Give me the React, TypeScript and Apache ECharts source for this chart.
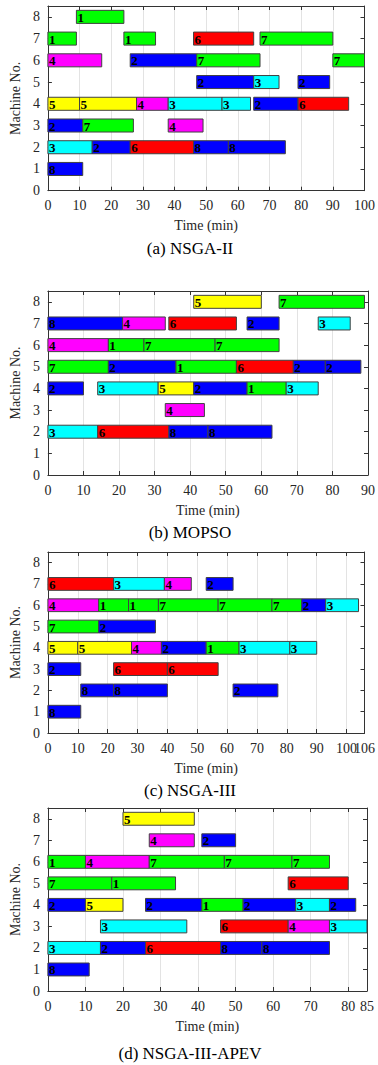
import React, { useEffect, useRef } from "react";
import * as echarts from "echarts";

type Task = [number, number, number, number]; // [machine, start, end, job]

const machineTicks = [0, 1, 2, 3, 4, 5, 6, 7, 8];

const panelTitles = ["(a) NSGA-II", "(b) MOPSO", "(c) NSGA-III", "(d) NSGA-III-APEV"];
const panelXMax = [100, 90, 106, 85];

const jobColors: Record<number, string> = {
  1: "#00ff00",
  2: "#0000ff",
  3: "#00ffff",
  4: "#ff00ff",
  5: "#ffff00",
  6: "#ff0000",
  7: "#00ff00",
  8: "#0000ff",
};

const nsga2Tasks: Task[] = [
  [8, 9, 24, 1],
  [7, 0, 9, 1], [7, 24, 34, 1], [7, 46, 65, 6], [7, 67, 90, 7],
  [6, 0, 17, 4], [6, 26, 47, 2], [6, 47, 67, 7], [6, 90, 100, 7],
  [5, 47, 65, 2], [5, 65, 73, 3], [5, 79, 89, 2],
  [4, 0, 10, 5], [4, 10, 28, 5], [4, 28, 38, 4], [4, 38, 55, 3], [4, 55, 64, 3], [4, 65, 79, 2], [4, 79, 95, 6],
  [3, 0, 11, 2], [3, 11, 27, 7], [3, 38, 49, 4],
  [2, 0, 14, 3], [2, 14, 26, 2], [2, 26, 46, 6], [2, 46, 57, 8], [2, 57, 75, 8],
  [1, 0, 11, 8],
];

const mopsoTasks: Task[] = [
  [8, 41, 60, 5], [8, 65, 89, 7],
  [7, 0, 21, 8], [7, 21, 33, 4], [7, 34, 53, 6], [7, 56, 65, 2], [7, 76, 85, 3],
  [6, 0, 17, 4], [6, 17, 27, 1], [6, 27, 47, 7], [6, 47, 65, 7],
  [5, 0, 17, 7], [5, 17, 36, 2], [5, 36, 53, 1], [5, 53, 69, 6], [5, 69, 78, 2], [5, 78, 88, 2],
  [4, 0, 10, 2], [4, 14, 31, 3], [4, 31, 41, 5], [4, 41, 56, 2], [4, 56, 67, 1], [4, 67, 76, 3],
  [3, 33, 44, 4],
  [2, 0, 14, 3], [2, 14, 34, 6], [2, 34, 45, 8], [2, 45, 63, 8],
];

const nsga3Tasks: Task[] = [
  [7, 0, 22, 6], [7, 22, 39, 3], [7, 39, 48, 4], [7, 53, 62, 2],
  [6, 0, 17, 4], [6, 17, 27, 1], [6, 27, 37, 1], [6, 37, 57, 7], [6, 57, 75, 7], [6, 75, 85, 7], [6, 85, 93, 2], [6, 93, 104, 3],
  [5, 0, 17, 7], [5, 17, 36, 2],
  [4, 0, 10, 5], [4, 10, 28, 5], [4, 28, 38, 4], [4, 38, 53, 2], [4, 53, 64, 1], [4, 64, 81, 3], [4, 81, 90, 3],
  [3, 0, 11, 2], [3, 22, 40, 6], [3, 40, 57, 6],
  [2, 11, 22, 8], [2, 22, 40, 8], [2, 62, 77, 2],
  [1, 0, 11, 8],
];

const apevTasks: Task[] = [
  [8, 20, 39, 5],
  [7, 27, 39, 4], [7, 41, 50, 2],
  [6, 0, 10, 1], [6, 10, 27, 4], [6, 27, 47, 7], [6, 47, 65, 7], [6, 65, 75, 7],
  [5, 0, 17, 7], [5, 17, 34, 1], [5, 64, 80, 6],
  [4, 0, 10, 2], [4, 10, 20, 5], [4, 26, 41, 2], [4, 41, 52, 1], [4, 52, 66, 2], [4, 66, 75, 3], [4, 75, 82, 2],
  [3, 14, 37, 3], [3, 46, 64, 6], [3, 64, 75, 4], [3, 75, 85, 3],
  [2, 0, 14, 3], [2, 14, 26, 2], [2, 26, 46, 6], [2, 46, 57, 8], [2, 57, 75, 8],
  [1, 0, 11, 8],
];

const panelTasks = [nsga2Tasks, mopsoTasks, nsga3Tasks, apevTasks];

const grids = [
  { left: 46, right: 11, top: 6, height: 184.7 },
  { left: 46, right: 8, top: 291, height: 184 },
  { left: 46, right: 11, top: 552, height: 181 },
  { left: 43, right: 11, top: 808, height: 183 },
];
const titleY = [248, 532, 790, 1053];

const FONT = "'Liberation Serif', 'DejaVu Serif', serif";
const AXIS_COLOR = "#333333";
const TEXT_COLOR = "#262626";

export default function App() {
  const ref = useRef<HTMLDivElement>(null);

  useEffect(() => {
    if (!ref.current) return;
    const chart = echarts.init(ref.current, undefined, { renderer: "svg" });

    const xAxis: any[] = [];
    const yAxis: any[] = [];
    const series: any[] = [];

    grids.forEach((g, i) => {
      const xmax = panelXMax[i];
      const maxIsOffGrid = xmax % 10 !== 0;
      const mainIndex = xAxis.length;
      xAxis.push({
        type: "value",
        gridIndex: i,
        min: 0,
        max: xmax,
        interval: 10,
        position: "bottom",
        name: "Time (min)",
        nameLocation: "middle",
        nameGap: 28,
        nameTextStyle: { fontFamily: FONT, fontSize: 14, color: TEXT_COLOR },
        axisLine: { show: true, onZero: false, lineStyle: { color: AXIS_COLOR, width: 1 } },
        axisTick: { show: true, inside: true, length: 4, lineStyle: { color: AXIS_COLOR } },
        axisLabel: {
          fontFamily: FONT,
          fontSize: 14,
          color: TEXT_COLOR,
          margin: 8,
          showMaxLabel: !maxIsOffGrid,
          showMinLabel: true,
          formatter: (v: number) => (v % 10 === 0 ? String(v) : ""),
        },
        splitLine: { show: true, lineStyle: { color: "#e3e3e3", width: 1 } },
      });
      xAxis.push({
        type: "value",
        gridIndex: i,
        min: 0,
        max: xmax,
        interval: 10,
        position: "top",
        axisLine: { show: true, onZero: false, lineStyle: { color: AXIS_COLOR, width: 1 } },
        axisTick: { show: true, inside: true, length: 4, lineStyle: { color: AXIS_COLOR } },
        axisLabel: { show: false },
        splitLine: { show: false },
      });
      if (maxIsOffGrid) {
        // separate bottom axis that only labels the end value (e.g. 106)
        xAxis.push({
          type: "value",
          gridIndex: i,
          min: 0,
          max: xmax,
          interval: 10,
          position: "bottom",
          axisLine: { show: false, onZero: false },
          axisTick: { show: false },
          splitLine: { show: false },
          axisLabel: {
            fontFamily: FONT,
            fontSize: 14,
            color: TEXT_COLOR,
            margin: 8,
            showMaxLabel: true,
            formatter: (v: number) => (v === xmax ? String(v) : ""),
          },
        });
      }
      yAxis.push({
        type: "value",
        gridIndex: i,
        min: machineTicks[0],
        max: 8.5,
        interval: 1,
        position: "left",
        name: "Machine No.",
        nameLocation: "middle",
        nameGap: 22,
        nameTextStyle: { fontFamily: FONT, fontSize: 14, color: TEXT_COLOR },
        axisLine: { show: true, onZero: false, lineStyle: { color: AXIS_COLOR, width: 1 } },
        axisTick: { show: true, inside: true, length: 4, lineStyle: { color: AXIS_COLOR } },
        axisLabel: {
          fontFamily: FONT,
          fontSize: 14,
          color: TEXT_COLOR,
          margin: 8,
          formatter: (v: number) => (machineTicks.includes(v) ? String(v) : ""),
        },
        splitLine: { show: false },
      });
      yAxis.push({
        type: "value",
        gridIndex: i,
        min: 0,
        max: 8.5,
        interval: 1,
        position: "right",
        axisLine: { show: true, onZero: false, lineStyle: { color: AXIS_COLOR, width: 1 } },
        axisTick: { show: true, inside: true, length: 4, lineStyle: { color: AXIS_COLOR } },
        axisLabel: { show: false },
        splitLine: { show: false },
      });

      series.push({
        type: "custom",
        xAxisIndex: mainIndex,
        yAxisIndex: 2 * i,
        data: panelTasks[i],
        encode: { x: [1, 2], y: 0 },
        clip: false,
        renderItem: (params: any, api: any) => {
          const m = api.value(0);
          const s = api.value(1);
          const e = api.value(2);
          const job = api.value(3);
          const p0 = api.coord([s, m]);
          const p1 = api.coord([e, m]);
          const h = api.size([0, 0.6])[1];
          return {
            type: "group",
            children: [
              {
                type: "rect",
                shape: { x: p0[0], y: p0[1] - h / 2, width: p1[0] - p0[0], height: h },
                style: { fill: jobColors[job], stroke: "#404040", lineWidth: 1 },
              },
              {
                type: "text",
                style: {
                  text: String(job),
                  x: p0[0] + 1,
                  y: p0[1] + 0.5,
                  align: "left",
                  verticalAlign: "middle",
                  font: `bold 13px ${FONT}`,
                  fill: "#000000",
                },
              },
            ],
          };
        },
      });
    });

    const graphic = panelTitles.map((t, i) => ({
      type: "text",
      x: 190,
      y: titleY[i],
      style: {
        text: t,
        x: 0,
        y: 0,
        align: "center",
        verticalAlign: "middle",
        font: `17px ${FONT}`,
        fill: "#000000",
      },
    }));

    chart.setOption({
      animation: false,
      backgroundColor: "#ffffff",
      grid: grids.map((g) => ({ ...g, show: false, containLabel: false })),
      xAxis,
      yAxis,
      series,
      graphic,
    });

    return () => chart.dispose();
  }, []);

  return (
    <div
      ref={ref}
      style={{ position: "absolute", left: 0, top: 0, width: 378, height: 1065 }}
    />
  );
}
